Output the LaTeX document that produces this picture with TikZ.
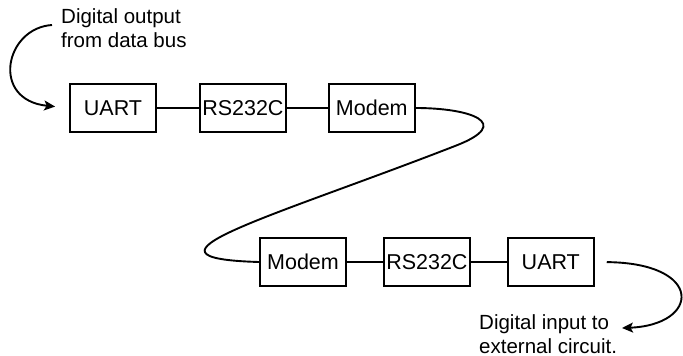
\documentclass[tikz,border=0pt]{standalone}
\usepackage{fontspec}
\setmainfont{Liberation Sans}
\usepackage{tikz}
\usetikzlibrary{arrows.meta,positioning}

\begin{document}
\begin{tikzpicture}[
  x=1pt,y=-1pt,
  blk/.style={draw,line width=1.9pt,minimum width=86pt,minimum height=48pt,inner sep=0pt,align=center,font=\fontsize{21.5}{24}\selectfont},
  lbl/.style={align=left,inner sep=0pt,anchor=north west,font=\fontsize{20.5}{24}\selectfont},
  wire/.style={line width=1.9pt},
  arr/.style={-{Stealth[length=11pt,width=10pt,inset=2.5pt]},line width=1.9pt}
]
\useasboundingbox (0,0) rectangle (683,356);

% sending side
\node[blk] (u1) at (113,108) {UART};
\node[blk,right=42pt of u1] (r1) {RS232C};
\node[blk,right=41pt of r1] (m1) {Modem};

% receiving side
\node[blk] (m2) at (303,262) {Modem};
\node[blk,right=36pt of m2] (r2) {RS232C};
\node[blk,right=36pt of r2] (u2) {UART};

\node[lbl] (src) at (61,8) {Digital output\\from data bus};
\node[lbl] (dst) at (479,314) {Digital input to\\external circuit.};

\coordinate (a1) at (52,25);
\coordinate (a2) at (622,328);
\coordinate (bend) at (455,146);

\draw[wire] (u1) -- (r1);
\draw[wire] (r1) -- (m1);
\draw[wire] (m2) -- (r2);
\draw[wire] (r2) -- (u2);

% telephone line
\draw[wire] (m1.east) .. controls +(54,0) and +(60,-23) .. (bend)
  .. controls +(-185,72) and +(-139,-4) .. (m2.west);

\draw[arr,shorten >=14pt] (a1) .. controls +(-47,3) and +(-79,-8) .. (u1.west);
\draw[arr,shorten <=12pt] (u2.east) .. controls +(110,1) and +(78,-3) .. (a2);
\end{tikzpicture}
\end{document}
